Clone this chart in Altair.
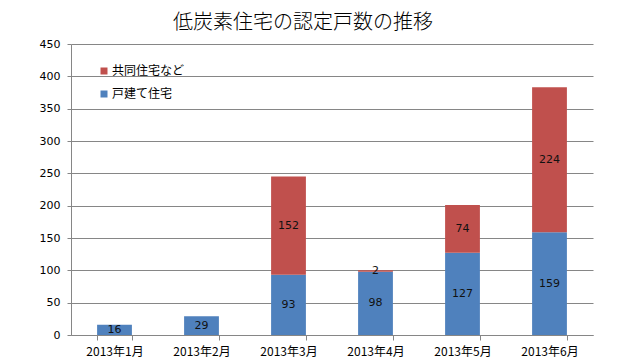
import altair as alt
import pandas as pd

months = ["2013年1月", "2013年2月", "2013年3月", "2013年4月", "2013年5月", "2013年6月"]
detached = [16, 29, 93, 98, 127, 159]
apartment = [0, 0, 152, 2, 74, 224]
series = ["戸建て住宅", "共同住宅など"]
colors = ["#4F81BD", "#C0504D"]
y_ticks = [0, 50, 100, 150, 200, 250, 300, 350, 400, 450]

rows = []
for m, d, a in zip(months, detached, apartment):
    rows.append({"month": m, "series": series[0], "value": d, "ord": 0})
    rows.append({"month": m, "series": series[1], "value": a, "ord": 1})
df = pd.DataFrame(rows)

base = alt.Chart(df).transform_stack(
    stack="value", groupby=["month"], as_=["v0", "v1"],
    sort=[alt.SortField("ord", order="ascending")]
).transform_calculate(mid="(datum.v0 + datum.v1) / 2")

x = alt.X("month:N", sort=months, title=None,
          scale=alt.Scale(paddingInner=0.6, paddingOuter=0.3),
          axis=alt.Axis(labelAngle=0, tickBand="extent", tickSize=5, labelPadding=6,
                        labelFont="Noto Sans CJK JP", labelFontSize=12, labelColor="#000000",
                        domainColor="#868686", tickColor="#868686", grid=False))

yscale = alt.Scale(domain=[0, 450], nice=False)
yaxis = alt.Axis(values=y_ticks, tickSize=4, labelPadding=7, labelOverlap=False,
                 labelFont="DejaVu Sans", labelFontSize=11, labelColor="#000000",
                 domainColor="#868686", tickColor="#868686",
                 gridColor="#868686", gridWidth=1, gridOpacity=1)

bars = base.mark_bar().encode(
    x=x,
    y=alt.Y("v0:Q", title=None, scale=yscale, axis=yaxis),
    y2="v1:Q",
    color=alt.Color("series:N",
                    scale=alt.Scale(domain=[series[1], series[0]], range=[colors[1], colors[0]]),
                    legend=alt.Legend(title=None, orient="none", legendX=27, legendY=21,
                                      symbolType="square", symbolSize=49, symbolStrokeWidth=0,
                                      labelFont="Noto Sans CJK JP", labelFontSize=12,
                                      labelColor="#000000", rowPadding=11, padding=0,
                                      labelOffset=2)),
)

labels = base.transform_filter("datum.value > 0").mark_text(
    font="DejaVu Sans", fontSize=11, color="#111111", baseline="middle"
).encode(
    x=x,
    y=alt.Y("mid:Q", title=None, scale=yscale, axis=yaxis),
    text=alt.Text("value:Q"),
)

chart = alt.layer(bars, labels).properties(
    width=522, height=291,
    padding={"left": 63, "top": 36, "right": 30, "bottom": 24},
    autosize=alt.AutoSizeParams(type="none"),
    title=alt.TitleParams("低炭素住宅の認定戸数の推移", font="Noto Sans CJK JP",
                          fontSize=20, fontWeight=300, color="#000000",
                          anchor="middle", dx=-29, offset=5),
).configure_view(stroke=None)

chart.save("out.html", embed_options={"renderer": "svg", "actions": False})
